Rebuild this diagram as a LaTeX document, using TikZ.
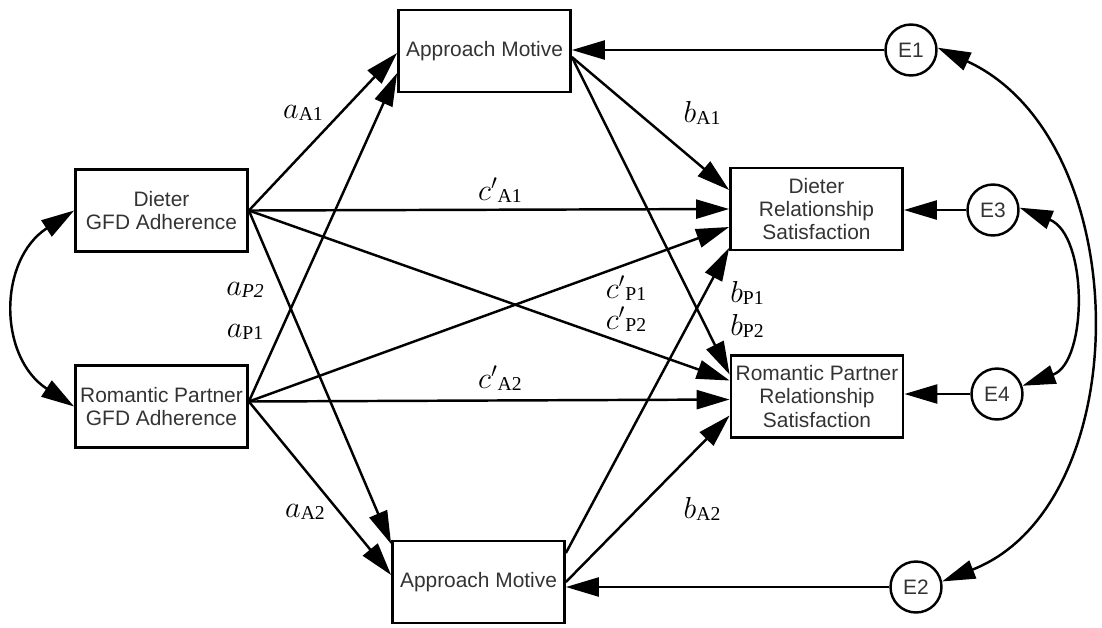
\documentclass[tikz,border=0pt]{standalone}
\usepackage{fontspec}
\setsansfont{Liberation Sans}
\newfontfamily\subfont{Liberation Serif}
\usetikzlibrary{arrows.meta,calc}
\newcommand{\pthsub}[1]{\raisebox{-1.2pt}{\subfont\fontsize{11.2pt}{12pt}\selectfont #1}}
\begin{document}
\begin{tikzpicture}[x=0.02cm,y=-0.02cm,
  box/.style={draw, line width=1.6pt, minimum width=3.44cm, minimum height=1.64cm,
    inner sep=0pt, align=center, font=\sffamily\fontsize{11.9pt}{13.1pt}\selectfont, text=black!80},
  err/.style={draw, circle, line width=1.4pt, minimum size=1.02cm, inner sep=0pt,
    font=\sffamily\fontsize{11.9pt}{13.1pt}\selectfont, text=black!80},
  tip/.tip={Triangle[length=0.66cm,width=0.38cm]},
  arr/.style={line width=1.4pt, -tip},
  dbl/.style={line width=1.4pt, tip-tip},
  lab/.style={font=\fontsize{18.5pt}{20pt}\selectfont, inner sep=0pt}
]
\useasboundingbox (0,0) rectangle (1102,627);

% boxes
\node[box] (tam) at (484.5,51) {Approach Motive};
\node[box] (bam) at (478.5,582) {Approach Motive};
\node[box] (dg) at (161.5,210.5) {Dieter\\GFD Adherence};
\node[box] (rg) at (161.5,406.5) {Romantic Partner\\GFD Adherence};
\node[box] (drs) at (816.5,209) {Dieter\\Relationship\\Satisfaction};
\node[box] (rrs) at (817,396.5) {Romantic Partner\\Relationship\\Satisfaction};

% error terms
\node[err] (e1) at (911,50) {E1};
\node[err] (e2) at (916,587) {E2};
\node[err] (e3) at (993,210) {E3};
\node[err] (e4) at (997,394) {E4};

\draw[arr] (e1.west) -- (tam.east |- e1.west);
\draw[arr] (e2.west) -- (bam.east |- e2.west);
\draw[arr] (e3.west) -- (drs.east |- e3.west);
\draw[arr] (e4.west) -- (rrs.east |- e4.west);

% paths from Dieter GFD
\draw[arr] (dg.east) -- ($(tam.west)+(0,2)$);
\draw[arr] (dg.east) -- (drs.west);
\draw[arr] (dg.east) -- ($(rrs.west)+(0,-16)$);
\draw[arr] (dg.east) -- ($(bam.west)+(0,-38)$);

% paths from Romantic Partner GFD
\coordinate (rgo) at ($(rg.east)+(0,-5)$);
\draw[arr] (rgo) -- ($(tam.west)+(0,22)$);
\draw[arr] (rgo) -- ($(drs.west)+(0,18)$);
\draw[arr] (rgo) -- ($(rrs.west)+(0,3)$);
\draw[arr] (rgo) -- ($(bam.west)+(0,-7)$);

% paths from mediators
\coordinate (tamo) at ($(tam.east)+(0,6)$);
\draw[arr] (tamo) -- ($(drs.west)+(0,-19)$);
\draw[arr] (tamo) -- ($(rrs.west)+(0,-22)$);
\coordinate (bamo) at ($(bam.east)+(0,-29)$);
\draw[arr] (bamo) -- ($(drs.west)+(0,39)$);
\draw[arr] (bam.east) -- ($(rrs.west)+(0,19)$);

% covariances
\draw[dbl] (dg.west) .. controls (-2,260) and (-2,357) .. (rg.west);
\draw[dbl] (e3.5) .. controls (1088,235) and (1088,362) .. (e4.18);
\draw[dbl] (e1.5) .. controls (1138,140) and (1138,505) .. (e2.12);

% labels
\node[lab] (laA1) at (303,113) {$a$\pthsub{A1}};
\node[lab] (lbA1) at (702,113) {$b$\pthsub{A1}};
\node[lab] (lcA1) at (500,190) {$c'$\pthsub{A1}};
\node[lab] (laP2) at (245,290) {$a$\pthsub{\itshape P2}};
\node[lab] (laP1) at (245,332) {$a$\pthsub{P1}};
\node[lab] (lcP1) at (626,288) {$c'$\pthsub{P1}};
\node[lab] (lcP2) at (626,319) {$c'$\pthsub{P2}};
\node[lab] (lbP1) at (747,293) {$b$\pthsub{P1}};
\node[lab] (lbP2) at (747,326) {$b$\pthsub{P2}};
\node[lab] (lcA2) at (500,378) {$c'$\pthsub{A2}};
\node[lab] (laA2) at (305,512) {$a$\pthsub{A2}};
\node[lab] (lbA2) at (702,509) {$b$\pthsub{A2}};
\end{tikzpicture}
\end{document}
